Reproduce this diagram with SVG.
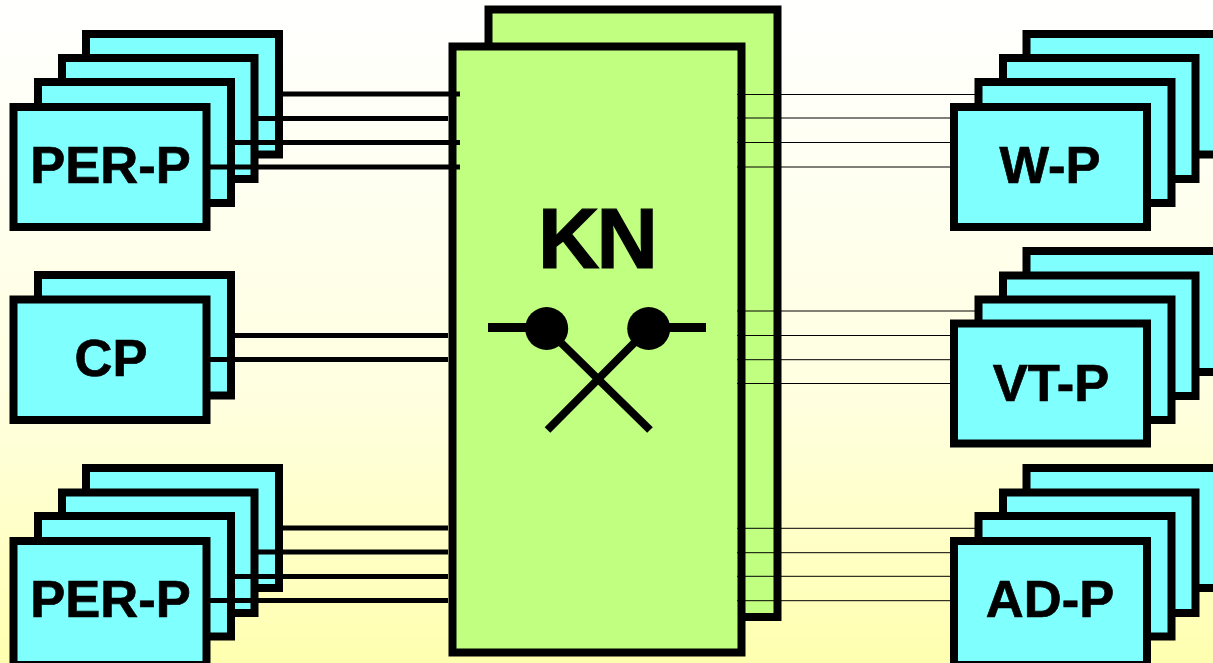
<svg xmlns="http://www.w3.org/2000/svg" width="1213" height="663" viewBox="0 0 1213 663">
<style>
.p{fill:#80ffff;stroke:#000;stroke-width:8}
.k{fill:#c0ff80;stroke:#000;stroke-width:8}
.t{font-family:"Liberation Sans",Arial,sans-serif;font-weight:700;font-size:52.500px;fill:#000;stroke:#000;stroke-width:0.700px;text-anchor:middle}
.c{stroke:#000;stroke-width:5;fill:none}
.n{stroke:#000;stroke-width:1;fill:none}
.s{stroke:#000;fill:none}
</style>
<defs>
<linearGradient id="bg" x1="0" y1="0" x2="0" y2="1">
<stop offset="0" stop-color="#ffffff"/>
<stop offset="0.6" stop-color="#ffffe0"/>
<stop offset="1" stop-color="#ffffb0"/>
</linearGradient>
</defs>
<rect x="0" y="0" width="1213" height="663" fill="url(#bg)"/>
<g id="per-p-top">
<rect class="p" x="86" y="34" width="193" height="120.5"/>
<rect class="p" x="62" y="58" width="192.5" height="121"/>
<rect class="p" x="38" y="82" width="193" height="121"/>
<rect class="p" x="13.5" y="107" width="193" height="120"/>
<text class="t" x="110.5" y="183">PER-P</text>
</g>
<g id="cp">
<rect class="p" x="38" y="275" width="193" height="120.5"/>
<rect class="p" x="13.5" y="299.5" width="193" height="120.5"/>
<text class="t" x="111" y="376">CP</text>
</g>
<g id="per-p-bottom">
<rect class="p" x="86" y="468" width="193" height="120"/>
<rect class="p" x="62" y="492.5" width="192.5" height="120.5"/>
<rect class="p" x="38" y="516" width="193" height="120.5"/>
<rect class="p" x="13.5" y="541" width="193" height="124"/>
<text class="t" x="110.5" y="616.5">PER-P</text>
</g>
<g id="kn">
<rect class="k" x="488.5" y="9.5" width="289" height="607.5"/>
<rect class="k" x="452.5" y="46.5" width="289" height="606"/>
<text class="t" x="596.500" y="268" style="font-size:85px;letter-spacing:-3px;stroke-width:1.200px">KN</text>
<path class="s" stroke-width="9" d="M488 327.500H530M665 327.500H706"/>
<path class="s" stroke-width="8" d="M546.500 328.500L650 430M648.500 328.500L547.500 430"/>
<circle cx="546.700" cy="328.500" r="21.500"/>
<circle cx="648.700" cy="328.500" r="21.500"/>
</g>
<g id="w-p">
<rect class="p" x="1026.5" y="34" width="193" height="120.5"/>
<rect class="p" x="1003" y="58" width="192.5" height="121"/>
<rect class="p" x="978.5" y="82" width="193" height="121"/>
<rect class="p" x="954" y="107" width="193" height="120"/>
<text class="t" x="1050" y="183">W-P</text>
</g>
<g id="vt-p">
<rect class="p" x="1026.5" y="251" width="193" height="121"/>
<rect class="p" x="1003" y="275.5" width="192.5" height="120.5"/>
<rect class="p" x="978.5" y="299.5" width="193" height="120.5"/>
<rect class="p" x="954" y="323.5" width="193" height="120"/>
<text class="t" x="1051" y="400.5">VT-P</text>
</g>
<g id="ad-p">
<rect class="p" x="1026.5" y="468" width="193" height="120"/>
<rect class="p" x="1003" y="492.5" width="192.5" height="120.5"/>
<rect class="p" x="978.5" y="516" width="193" height="120.5"/>
<rect class="p" x="954" y="541" width="193" height="124"/>
<text class="t" x="1050" y="616.5">AD-P</text>
</g>
<g id="connectors">
<path class="c" d="M279 94H460M254 118.500H448M231 142.500H460M206 167H460"/>
<path class="c" d="M231 335.500H448M206 359.500H448"/>
<path class="c" d="M279 528H448M254 552H448M231 576.500H448M206 600.500H448"/>
<path class="n" d="M737 94.500H975M737 118H951M737 142.500H951M737 167H951"/>
<path class="n" d="M737 311H975M737 335.500H951M737 359.700H951M737 383.500H951"/>
<path class="n" d="M737 528.300H975M737 552.700H951M737 576.300H951M737 600.700H951"/>
</g>
</svg>
